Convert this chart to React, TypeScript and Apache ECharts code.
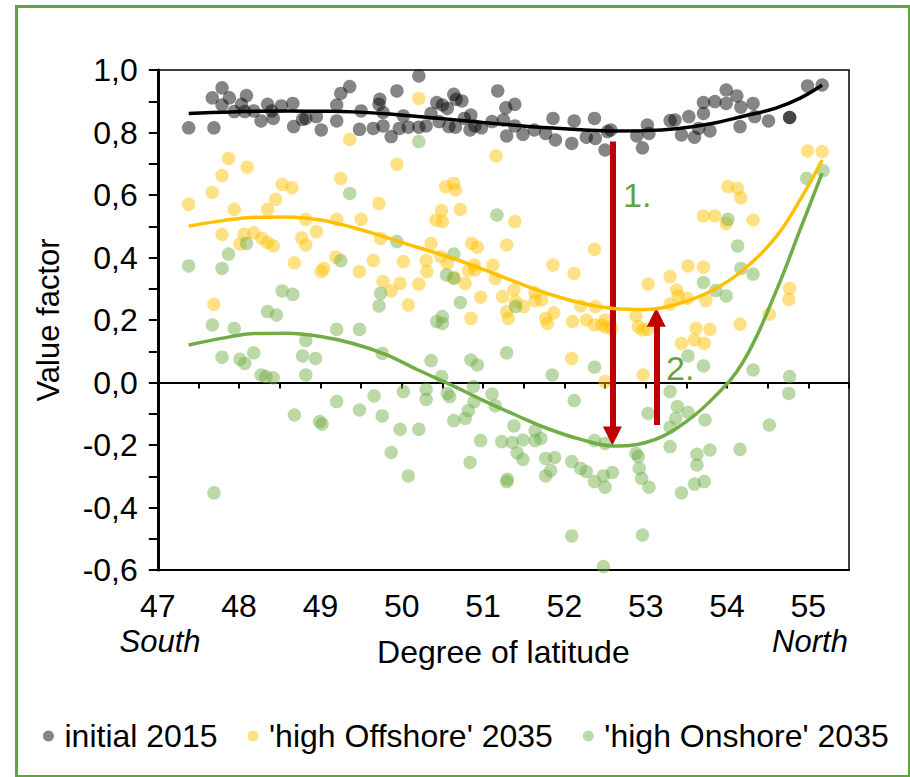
import React, { useEffect, useRef } from "react";
import * as echarts from "echarts";

// ---- Data (latitude, value factor) ----
const initial2015: [number, number][] = [
  [47.38, 0.815], [47.69, 0.815], [47.67, 0.911], [47.79, 0.943], [47.88, 0.911], [47.79, 0.888],
  [47.94, 0.867], [48.03, 0.89], [48.09, 0.918], [48.07, 0.867], [48.18, 0.869], [48.27, 0.837],
  [48.35, 0.89], [48.42, 0.845], [48.4, 0.869], [48.52, 0.885], [48.66, 0.893], [48.67, 0.819],
  [48.78, 0.842], [48.82, 0.845], [48.95, 0.851], [49.01, 0.808], [49.2, 0.837], [49.2, 0.888],
  [49.25, 0.925], [49.36, 0.947], [49.48, 0.81], [49.5, 0.869], [49.65, 0.813], [49.73, 0.906],
  [49.72, 0.89], [49.77, 0.864], [49.77, 0.821], [49.87, 0.787], [49.94, 0.933], [49.97, 0.813],
  [50.02, 0.853], [50.08, 0.817], [50.21, 0.981], [50.21, 0.817], [50.3, 0.821], [50.36, 0.861],
  [50.43, 0.896], [50.5, 0.888], [50.46, 0.835], [50.56, 0.877], [50.58, 0.819], [50.64, 0.922],
  [50.67, 0.906], [50.74, 0.901], [50.66, 0.817], [50.77, 0.845], [50.85, 0.856], [50.84, 0.808],
  [50.9, 0.821], [50.98, 0.815], [51.11, 0.835], [51.18, 0.933], [51.25, 0.84], [51.28, 0.879],
  [51.39, 0.89], [51.29, 0.789], [51.39, 0.821], [51.49, 0.794], [51.63, 0.808], [51.77, 0.797],
  [51.86, 0.845], [51.89, 0.776], [52.09, 0.765], [52.12, 0.837], [52.27, 0.785], [52.37, 0.845],
  [52.38, 0.781], [52.5, 0.744], [52.53, 0.803], [52.57, 0.808], [52.89, 0.789], [52.96, 0.751],
  [53.02, 0.824], [53.04, 0.797], [53.3, 0.838], [53.36, 0.84], [53.44, 0.792], [53.53, 0.851],
  [53.6, 0.785], [53.65, 0.813], [53.71, 0.861], [53.71, 0.896], [53.79, 0.805], [53.85, 0.899],
  [53.99, 0.936], [53.99, 0.893], [54.12, 0.917], [54.16, 0.819], [54.17, 0.881], [54.32, 0.893],
  [54.34, 0.851], [54.51, 0.837], [54.77, 0.848], [54.77, 0.848], [54.99, 0.949], [55.17, 0.952],
];

const highOffshore2035: [number, number][] = [
  [47.38, 0.57], [47.67, 0.608], [47.79, 0.662], [47.87, 0.717], [47.94, 0.554], [48.1, 0.689],
  [48.35, 0.554], [48.45, 0.586], [48.53, 0.634], [48.65, 0.623], [47.79, 0.474], [48.06, 0.474],
  [48.18, 0.479], [48.82, 0.522], [48.95, 0.483], [49.25, 0.653], [49.2, 0.522], [49.36, 0.778],
  [48.77, 0.463], [48.82, 0.44], [48.28, 0.461], [48.01, 0.443], [48.35, 0.448], [48.42, 0.437],
  [48.68, 0.383], [49.01, 0.355], [49.04, 0.365], [49.19, 0.401], [49.48, 0.355], [47.69, 0.25],
  [50.21, 0.909], [49.94, 0.698], [50.54, 0.627], [50.64, 0.637], [50.66, 0.616], [51.16, 0.725],
  [49.72, 0.573], [49.5, 0.522], [50.72, 0.554], [50.49, 0.55], [50.42, 0.52], [50.5, 0.515],
  [51.39, 0.515], [49.74, 0.461], [50.36, 0.445], [50.86, 0.445], [50.93, 0.433], [51.29, 0.44],
  [52.37, 0.426], [49.65, 0.39], [49.77, 0.323], [49.87, 0.293], [49.98, 0.317], [50.02, 0.387],
  [50.21, 0.315], [50.3, 0.39], [50.31, 0.355], [50.48, 0.403], [50.56, 0.381], [50.64, 0.337],
  [50.78, 0.317], [50.82, 0.358], [50.89, 0.376], [50.9, 0.36], [51.12, 0.376], [51.15, 0.333],
  [50.08, 0.248], [50.85, 0.205], [50.97, 0.273], [51.24, 0.275], [51.29, 0.227], [51.31, 0.205],
  [51.38, 0.296], [51.4, 0.259], [51.5, 0.243], [51.64, 0.287], [51.64, 0.262], [51.72, 0.264],
  [51.77, 0.205], [51.79, 0.189], [51.87, 0.223], [51.86, 0.376], [52.1, 0.195], [52.12, 0.349],
  [52.09, 0.077], [52.2, 0.245], [52.27, 0.2], [52.38, 0.243], [52.37, 0.184], [52.46, 0.184],
  [52.51, 0.177], [52.5, 0.003], [52.5, 0.2], [52.58, 0.173], [52.88, 0.213], [52.91, 0.179],
  [52.96, 0.168], [53.03, 0.315], [53.02, 0.17], [52.97, 0.024], [53.3, 0.339], [53.38, 0.296],
  [53.3, 0.251], [53.4, 0.277], [53.52, 0.373], [53.51, 0.269], [53.71, 0.369], [53.74, 0.262],
  [53.62, 0.173], [53.79, 0.17], [53.44, 0.125], [53.6, 0.136], [53.72, 0.125], [54.16, 0.187],
  [54.52, 0.219], [54.77, 0.301], [54.76, 0.266], [54.99, 0.741], [55.17, 0.739], [54.01, 0.627],
  [54.13, 0.621], [54.17, 0.591], [53.71, 0.533], [53.85, 0.533], [53.99, 0.509], [54.32, 0.52],
];

const highOnshore2035: [number, number][] = [
  [49.36, 0.605], [48.09, 0.445], [50.21, 0.771], [51.17, 0.536], [49.94, 0.451], [54.98, 0.653],
  [55.18, 0.678], [54.01, 0.522], [54.13, 0.437], [47.38, 0.373], [47.79, 0.365], [47.87, 0.411],
  [48.53, 0.293], [48.66, 0.282], [48.35, 0.227], [48.46, 0.216], [47.67, 0.184], [47.94, 0.173],
  [47.79, 0.081], [48.01, 0.074], [48.07, 0.061], [48.18, 0.095], [48.27, 0.024], [48.33, 0.019],
  [48.42, 0.015], [48.78, 0.085], [48.94, 0.077], [48.82, 0.134], [48.82, 0.024], [49.2, 0.17],
  [49.25, 0.39], [49.48, 0.17], [49.2, -0.061], [49.48, -0.088], [48.68, -0.104], [48.99, -0.125],
  [49.02, -0.133], [47.69, -0.353], [50.64, 0.411], [50.55, 0.344], [50.64, 0.333], [49.74, 0.285],
  [49.72, 0.245], [50.72, 0.256], [50.43, 0.195], [50.5, 0.211], [50.5, 0.189], [51.4, 0.243],
  [49.76, 0.093], [50.36, 0.07], [50.85, 0.072], [50.93, 0.056], [51.29, 0.095], [51.85, 0.024],
  [52.37, 0.049], [50.49, 0.019], [50.88, -0.013], [49.66, -0.043], [50.02, -0.029], [50.3, -0.022],
  [50.3, -0.054], [50.56, -0.035], [50.59, -0.045], [50.89, -0.061], [51.11, -0.037], [51.15, -0.075],
  [49.76, -0.107], [50.82, -0.09], [50.78, -0.115], [50.64, -0.122], [52.12, -0.058], [49.98, -0.15],
  [50.21, -0.15], [51.38, -0.139], [49.87, -0.224], [50.08, -0.299], [50.97, -0.186], [50.84, -0.256],
  [51.23, -0.189], [51.36, -0.192], [51.49, -0.184], [51.64, -0.154], [51.64, -0.186], [51.71, -0.179],
  [51.42, -0.225], [51.49, -0.246], [51.3, -0.31], [51.29, -0.317], [51.77, -0.243], [51.88, -0.24],
  [51.77, -0.299], [51.83, -0.282], [52.09, -0.253], [52.2, -0.275], [52.27, -0.285], [52.37, -0.317],
  [52.48, -0.299], [52.5, -0.335], [52.37, -0.186], [52.5, -0.195], [52.09, -0.491], [52.48, -0.589],
  [53.03, -0.099], [53.39, -0.077], [53.52, -0.096], [53.37, -0.115], [53.3, -0.143], [53.73, -0.12],
  [54.52, -0.136], [53.3, -0.205], [52.88, -0.227], [52.91, -0.237], [52.92, -0.275], [52.95, -0.307],
  [53.04, -0.335], [52.59, -0.288], [53.44, -0.353], [53.6, -0.325], [53.72, -0.317], [53.63, -0.23],
  [53.63, -0.264], [53.79, -0.216], [54.16, -0.214], [52.96, -0.488], [54.17, 0.365], [54.32, 0.347],
  [53.71, 0.32], [53.86, 0.294], [53.99, 0.277], [53.52, 0.085], [53.71, 0.053], [54.32, 0.04],
  [54.77, 0.019], [54.76, -0.035], [53.3, -0.029],
];

// Trend lines
const trendLat = [47.38, 47.8, 48.2, 48.6, 49.0, 49.4, 49.8, 50.2, 50.6, 51.0, 51.4, 51.8, 52.2, 52.6, 53.0, 53.4, 53.8, 54.2, 54.6, 54.9, 55.17];
const trendInitial = [0.861, 0.865, 0.868, 0.869, 0.868, 0.866, 0.86, 0.851, 0.842, 0.832, 0.823, 0.815, 0.809, 0.805, 0.806, 0.813, 0.828, 0.852, 0.878, 0.91, 0.952];
const trendOffshore = [0.5, 0.518, 0.529, 0.53, 0.52, 0.496, 0.465, 0.432, 0.4, 0.362, 0.322, 0.284, 0.255, 0.237, 0.234, 0.252, 0.292, 0.36, 0.465, 0.585, 0.712];
const trendOnshore = [0.12, 0.142, 0.157, 0.158, 0.147, 0.125, 0.09, 0.04, -0.007, -0.057, -0.104, -0.148, -0.182, -0.203, -0.192, -0.143, -0.058, 0.067, 0.29, 0.49, 0.67];

// Arrows (from -> to, in data coordinates)
const arrow1: [number, number][] = [[52.59, 0.771], [52.59, -0.171]];
const arrow2: [number, number][] = [[53.13, -0.136], [53.13, 0.209]];

const seriesNames = ["initial 2015", "'high Offshore' 2035", "'high Onshore' 2035"];

const FONT = "'Liberation Sans', Arial, sans-serif";

export default function App() {
  const ref = useRef<HTMLDivElement>(null);

  useEffect(() => {
    if (!ref.current) return;
    const chart = echarts.init(ref.current, undefined, { renderer: "svg" });
    const toPairs = (ys: number[]) => trendLat.map((x, i) => [x, ys[i]]);
    const fmtY = (v: number) => (Math.abs(v) < 1e-9 ? "0,0" : v.toFixed(1).replace(".", ","));

    chart.setOption({
      animation: false,
      backgroundColor: "#fff",
      textStyle: { fontFamily: FONT, color: "#000" },
      grid: {
        left: 157.8, top: 70, right: 61, bottom: 207,
        show: true, borderColor: "#000", borderWidth: 1.5, backgroundColor: "transparent",
      },
      legend: {
        data: seriesNames,
        left: 38, top: 715,
        icon: "circle", itemWidth: 22, itemHeight: 11, itemGap: 30,
        textStyle: { fontSize: 32, color: "#000", fontFamily: FONT },
      },
      xAxis: [
        {
          type: "value", min: 47, max: 55.5, interval: 1, position: "bottom",
          axisLine: { onZero: false, lineStyle: { color: "#000", width: 2 } },
          axisTick: { show: false },
          splitLine: { show: false },
          axisLabel: {
            fontSize: 32, lineHeight: 26, color: "#000", margin: 23, fontFamily: FONT,
            formatter: (v: number) => (v <= 55.001 ? String(Math.round(v)) : ""),
          },
          name: "Degree of latitude", nameLocation: "middle", nameGap: 66,
          nameTextStyle: { fontSize: 32, color: "#000", fontFamily: FONT },
        },
        {
          type: "value", min: 47, max: 55.5, interval: 0.5, position: "top",
          axisLine: { show: true, onZero: true, onZeroAxisIndex: 0, lineStyle: { color: "#000", width: 2 } },
          axisTick: { show: true, inside: true, length: 6, lineStyle: { color: "#000", width: 2 } },
          axisLabel: { show: false },
          splitLine: { show: false },
        },
      ],
      yAxis: {
        type: "value", min: -0.6, max: 1.0, interval: 0.2,
        axisLine: { show: true, onZero: false, lineStyle: { color: "#000", width: 3 } },
        axisTick: { show: true, length: 9, lineStyle: { color: "#000", width: 2 } },
        minorTick: { show: true, splitNumber: 2, length: 9, lineStyle: { color: "#000", width: 2 } },
        splitLine: { show: false },
        minorSplitLine: { show: false },
        axisLabel: { fontSize: 32, color: "#000", margin: 20, fontFamily: FONT, formatter: fmtY },
        name: "Value factor", nameLocation: "middle", nameGap: 94,
        nameTextStyle: { fontSize: 31, color: "#000", fontFamily: FONT },
      },
      series: [
        {
          name: seriesNames[0], type: "scatter", data: initial2015, symbolSize: 13.5,
          itemStyle: { color: "rgba(0,0,0,0.6)" }, z: 2, silent: true,
        },
        {
          name: seriesNames[1], type: "scatter", data: highOffshore2035, symbolSize: 13.5,
          itemStyle: { color: "rgba(255,192,0,0.6)" }, z: 2, silent: true,
        },
        {
          name: seriesNames[2], type: "scatter", data: highOnshore2035, symbolSize: 13.5,
          itemStyle: { color: "rgba(112,173,71,0.6)" }, z: 2, silent: true,
        },
        {
          name: "trend initial", type: "line", data: toPairs(trendInitial), smooth: 0.4,
          showSymbol: false, lineStyle: { color: "#000", width: 3.5 }, z: 5, silent: true,
        },
        {
          name: "trend offshore", type: "line", data: toPairs(trendOffshore), smooth: 0.4,
          showSymbol: false, lineStyle: { color: "#ffc000", width: 3.5 }, z: 5, silent: true,
        },
        {
          name: "trend onshore", type: "line", data: toPairs(trendOnshore), smooth: 0.4,
          showSymbol: false, lineStyle: { color: "#70ad47", width: 3.5 }, z: 5, silent: true,
          markLine: {
            silent: true,
            symbol: ["none", "triangle"],
            symbolSize: 19,
            label: { show: false },
            lineStyle: { color: "#c00000", width: 6, type: "solid" },
            data: [
              [{ coord: arrow1[0] }, { coord: arrow1[1] }],
              [{ coord: arrow2[0] }, { coord: arrow2[1] }],
            ],
          },
        },
      ],
      graphic: [
        {
          type: "rect", left: 14, top: 4, silent: true,
          shape: { x: 0, y: 0, width: 893, height: 770 },
          style: { fill: "none", stroke: "#5fa53a", lineWidth: 3 },
        },
        {
          type: "text", x: 160, y: 641, silent: true,
          style: { text: "South", fontSize: 31, lineHeight: 26, fontStyle: "italic", fontFamily: FONT, fill: "#000", align: "center", verticalAlign: "middle" },
        },
        {
          type: "text", x: 810, y: 641, silent: true,
          style: { text: "North", fontSize: 31, lineHeight: 26, fontStyle: "italic", fontFamily: FONT, fill: "#000", align: "center", verticalAlign: "middle" },
        },
        {
          type: "text", x: 623, y: 195, silent: true,
          style: { text: "1.", fontSize: 34, fontFamily: FONT, fill: "#5fa53a", align: "left", verticalAlign: "middle" },
        },
        {
          type: "text", x: 666, y: 368, silent: true,
          style: { text: "2.", fontSize: 34, fontFamily: FONT, fill: "#5fa53a", align: "left", verticalAlign: "middle" },
        },
      ],
    });
    return () => chart.dispose();
  }, []);

  return (
    <div
      ref={ref}
      style={{ position: "fixed", left: 0, top: 0, width: 910, height: 777, background: "#fff" }}
    />
  );
}
